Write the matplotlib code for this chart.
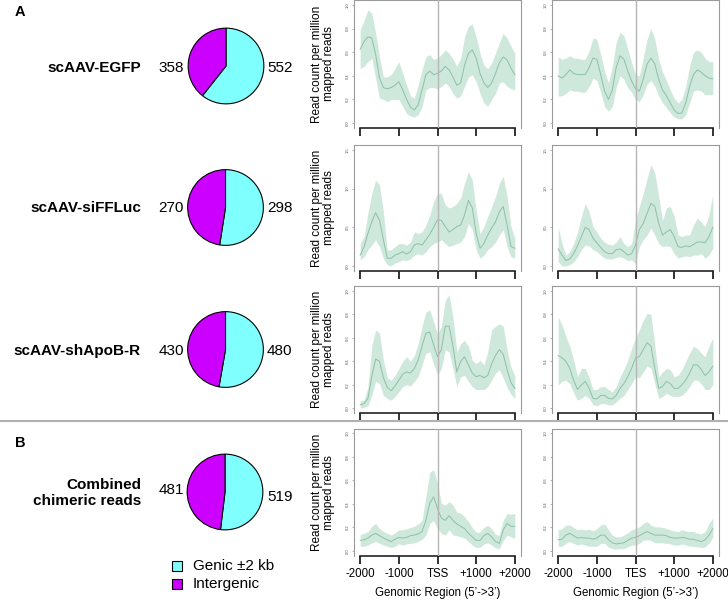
import numpy as np
import matplotlib
matplotlib.use("Agg")
import matplotlib.pyplot as plt
from matplotlib.patches import Rectangle
from matplotlib.lines import Line2D

plt.rcParams['font.family'] = ['Liberation Sans', 'DejaVu Sans']

# ---------------- data ----------------
samples = ["scAAV-EGFP", "scAAV-siFFLuc", "scAAV-shApoB-R", "Combined\nchimeric reads"]
genic_counts = [552, 298, 480, 519]
intergenic_counts = [358, 270, 430, 481]
legend_labels = ["Genic \u00b12 kb", "Intergenic"]

positions = np.arange(-2000, 2001, 100)
xtick_values = [-2000, -1000, 0, 1000, 2000]
tss_ticklabels = ["-2000", "-1000", "TSS", "+1000", "+2000"]
tes_ticklabels = ["-2000", "-1000", "TES", "+1000", "+2000"]

egfp_tss_mean = [0.625,0.69,0.73,0.72,0.58,0.38,0.30,0.29,0.30,0.32,0.35,0.28,0.20,0.135,0.11,0.155,0.28,0.41,0.44,0.41,0.42,0.44,0.48,0.45,0.39,0.32,0.34,0.49,0.59,0.62,0.55,0.42,0.34,0.30,0.34,0.42,0.51,0.56,0.535,0.465,0.41]
egfp_tss_hi = [0.79,0.87,0.96,0.93,0.76,0.56,0.39,0.39,0.41,0.46,0.52,0.42,0.32,0.23,0.21,0.32,0.45,0.56,0.58,0.54,0.55,0.58,0.62,0.59,0.54,0.48,0.55,0.73,0.82,0.84,0.73,0.59,0.49,0.46,0.51,0.59,0.68,0.76,0.72,0.65,0.59]
egfp_tss_lo = [0.46,0.48,0.52,0.55,0.38,0.21,0.20,0.18,0.20,0.20,0.20,0.14,0.08,0.06,0.05,0.07,0.14,0.28,0.30,0.30,0.29,0.31,0.34,0.31,0.25,0.21,0.23,0.31,0.39,0.41,0.35,0.25,0.17,0.14,0.20,0.25,0.34,0.35,0.31,0.29,0.28]

egfp_tes_mean = [0.40,0.38,0.41,0.45,0.42,0.41,0.41,0.41,0.47,0.55,0.54,0.41,0.27,0.20,0.28,0.47,0.57,0.54,0.44,0.355,0.29,0.27,0.37,0.50,0.55,0.50,0.37,0.28,0.23,0.17,0.11,0.08,0.085,0.17,0.31,0.41,0.45,0.43,0.40,0.38,0.375]
egfp_tes_hi = [0.56,0.54,0.55,0.57,0.55,0.55,0.54,0.54,0.61,0.72,0.71,0.58,0.44,0.34,0.48,0.68,0.77,0.74,0.63,0.51,0.41,0.40,0.55,0.71,0.80,0.71,0.54,0.43,0.36,0.28,0.21,0.17,0.20,0.31,0.48,0.60,0.62,0.60,0.55,0.52,0.52]
egfp_tes_lo = [0.23,0.23,0.25,0.28,0.27,0.27,0.26,0.26,0.31,0.38,0.36,0.26,0.14,0.10,0.14,0.30,0.40,0.37,0.30,0.26,0.20,0.18,0.24,0.33,0.36,0.31,0.23,0.17,0.13,0.085,0.05,0.035,0.035,0.07,0.17,0.27,0.28,0.27,0.24,0.24,0.24]

siffluc_tss_mean = [0.14,0.25,0.42,0.57,0.69,0.59,0.34,0.10,0.10,0.14,0.16,0.185,0.155,0.185,0.27,0.29,0.27,0.34,0.41,0.50,0.60,0.59,0.51,0.44,0.47,0.51,0.53,0.66,0.85,0.75,0.42,0.23,0.29,0.40,0.49,0.57,0.70,0.77,0.53,0.25,0.23]
siffluc_tss_hi = [0.29,0.38,0.68,0.94,1.11,1.05,0.70,0.21,0.21,0.25,0.29,0.29,0.27,0.31,0.44,0.42,0.44,0.53,0.66,0.83,0.94,0.94,0.79,0.75,0.77,0.81,0.88,1.07,1.22,1.11,0.72,0.42,0.51,0.64,0.77,0.90,1.07,1.16,0.90,0.51,0.36]
siffluc_tss_lo = [0.08,0.12,0.21,0.27,0.34,0.25,0.10,0.015,0.0,0.04,0.055,0.08,0.07,0.09,0.14,0.16,0.14,0.185,0.25,0.29,0.31,0.34,0.29,0.25,0.27,0.29,0.31,0.38,0.55,0.47,0.21,0.10,0.14,0.21,0.25,0.31,0.40,0.47,0.25,0.12,0.10]

siffluc_tes_mean = [0.22,0.14,0.07,0.09,0.16,0.26,0.38,0.50,0.47,0.36,0.30,0.24,0.185,0.16,0.16,0.21,0.22,0.185,0.14,0.16,0.27,0.47,0.55,0.68,0.81,0.77,0.55,0.40,0.44,0.47,0.38,0.25,0.24,0.26,0.25,0.28,0.31,0.31,0.30,0.38,0.50]
siffluc_tes_hi = [0.50,0.29,0.14,0.185,0.29,0.44,0.64,0.81,0.70,0.51,0.44,0.36,0.31,0.28,0.27,0.31,0.38,0.29,0.25,0.29,0.59,0.77,0.94,1.13,1.31,1.20,0.90,0.59,0.75,0.77,0.64,0.40,0.38,0.40,0.40,0.53,0.62,0.57,0.51,0.66,0.92]
siffluc_tes_lo = [0.055,0.0,0.0,0.015,0.055,0.12,0.21,0.27,0.26,0.21,0.185,0.14,0.10,0.09,0.09,0.11,0.12,0.10,0.07,0.08,0.03,0.25,0.34,0.40,0.49,0.40,0.29,0.25,0.26,0.25,0.16,0.10,0.12,0.13,0.12,0.14,0.14,0.16,0.10,0.14,0.23]

shapob_tss_mean = [0.03,0.04,0.085,0.27,0.42,0.40,0.26,0.18,0.15,0.19,0.24,0.29,0.31,0.30,0.34,0.41,0.53,0.64,0.65,0.54,0.44,0.50,0.70,0.70,0.53,0.31,0.40,0.44,0.37,0.30,0.27,0.28,0.26,0.28,0.38,0.45,0.50,0.46,0.33,0.22,0.17]
shapob_tss_hi = [0.065,0.07,0.18,0.53,0.67,0.64,0.41,0.26,0.24,0.28,0.34,0.40,0.44,0.40,0.45,0.55,0.70,0.82,0.84,0.74,0.63,0.70,0.92,0.97,0.78,0.48,0.55,0.58,0.53,0.41,0.38,0.41,0.37,0.48,0.67,0.70,0.72,0.70,0.50,0.35,0.28]
shapob_tss_lo = [0.0,0.01,0.02,0.11,0.23,0.21,0.11,0.085,0.07,0.10,0.14,0.185,0.20,0.19,0.23,0.27,0.37,0.47,0.48,0.38,0.28,0.34,0.50,0.48,0.34,0.185,0.27,0.28,0.23,0.185,0.16,0.16,0.16,0.185,0.24,0.30,0.33,0.26,0.18,0.12,0.085]

shapob_tes_mean = [0.45,0.43,0.40,0.34,0.24,0.16,0.20,0.23,0.17,0.085,0.08,0.11,0.11,0.085,0.08,0.11,0.17,0.21,0.27,0.34,0.43,0.44,0.50,0.56,0.53,0.34,0.17,0.185,0.23,0.21,0.17,0.17,0.20,0.24,0.30,0.37,0.37,0.33,0.28,0.31,0.36]
shapob_tes_hi = [0.78,0.71,0.61,0.53,0.41,0.27,0.34,0.34,0.26,0.16,0.16,0.185,0.185,0.16,0.14,0.185,0.27,0.33,0.41,0.51,0.60,0.67,0.75,0.81,0.80,0.53,0.27,0.31,0.34,0.33,0.27,0.28,0.33,0.40,0.47,0.53,0.51,0.47,0.44,0.53,0.60]
shapob_tes_lo = [0.20,0.23,0.24,0.21,0.13,0.07,0.085,0.11,0.085,0.03,0.02,0.04,0.04,0.03,0.03,0.055,0.085,0.11,0.16,0.21,0.27,0.26,0.31,0.36,0.34,0.21,0.085,0.10,0.13,0.11,0.10,0.10,0.11,0.14,0.185,0.24,0.24,0.21,0.16,0.16,0.20]

combined_tss_mean = [0.09,0.095,0.11,0.135,0.15,0.13,0.11,0.095,0.08,0.10,0.115,0.11,0.115,0.13,0.135,0.145,0.165,0.26,0.405,0.46,0.36,0.28,0.26,0.30,0.26,0.23,0.21,0.19,0.15,0.12,0.09,0.09,0.13,0.15,0.12,0.08,0.065,0.18,0.235,0.21,0.21]
combined_tss_hi = [0.14,0.15,0.165,0.21,0.235,0.19,0.165,0.15,0.135,0.155,0.18,0.18,0.19,0.20,0.21,0.23,0.26,0.46,0.67,0.69,0.575,0.405,0.39,0.42,0.39,0.33,0.32,0.29,0.25,0.20,0.16,0.16,0.20,0.22,0.19,0.14,0.135,0.26,0.32,0.31,0.32]
combined_tss_lo = [0.04,0.04,0.05,0.07,0.08,0.065,0.05,0.04,0.03,0.04,0.06,0.05,0.06,0.065,0.07,0.08,0.10,0.135,0.235,0.26,0.19,0.15,0.135,0.18,0.135,0.13,0.12,0.11,0.08,0.05,0.03,0.03,0.06,0.07,0.05,0.025,0.02,0.09,0.135,0.12,0.11]

combined_tes_mean = [0.095,0.10,0.135,0.15,0.13,0.11,0.115,0.11,0.11,0.10,0.11,0.135,0.135,0.095,0.07,0.06,0.065,0.07,0.09,0.11,0.115,0.13,0.15,0.165,0.15,0.135,0.135,0.135,0.13,0.115,0.11,0.11,0.115,0.11,0.10,0.10,0.09,0.08,0.095,0.135,0.19]
combined_tes_hi = [0.18,0.19,0.22,0.22,0.20,0.18,0.185,0.18,0.185,0.17,0.19,0.22,0.23,0.18,0.135,0.12,0.12,0.135,0.155,0.18,0.19,0.205,0.235,0.25,0.22,0.205,0.205,0.20,0.19,0.18,0.17,0.165,0.18,0.17,0.165,0.165,0.15,0.145,0.165,0.235,0.28]
combined_tes_lo = [0.04,0.04,0.065,0.08,0.065,0.05,0.06,0.05,0.04,0.04,0.04,0.065,0.065,0.035,0.02,0.015,0.02,0.02,0.035,0.05,0.05,0.065,0.09,0.095,0.09,0.07,0.07,0.07,0.065,0.06,0.05,0.05,0.06,0.05,0.04,0.04,0.035,0.03,0.035,0.065,0.12]

row_ymax = [1.0, 1.5, 1.0, 1.0]
row_yticks = [[0.0, 0.2, 0.4, 0.6, 0.8, 1.0], [0.0, 0.5, 1.0, 1.5],
              [0.0, 0.2, 0.4, 0.6, 0.8, 1.0], [0.0, 0.2, 0.4, 0.6, 0.8, 1.0]]

profiles = [
    [(egfp_tss_mean, egfp_tss_lo, egfp_tss_hi), (egfp_tes_mean, egfp_tes_lo, egfp_tes_hi)],
    [(siffluc_tss_mean, siffluc_tss_lo, siffluc_tss_hi), (siffluc_tes_mean, siffluc_tes_lo, siffluc_tes_hi)],
    [(shapob_tss_mean, shapob_tss_lo, shapob_tss_hi), (shapob_tes_mean, shapob_tes_lo, shapob_tes_hi)],
    [(combined_tss_mean, combined_tss_lo, combined_tss_hi), (combined_tes_mean, combined_tes_lo, combined_tes_hi)],
]

# ---------------- layout ----------------
W, H = 728, 602
fig = plt.figure(figsize=(W / 100, H / 100), dpi=100)

def fx(x):
    return x / W

def fy(y):
    return 1 - y / H

CYAN = "#80FFFF"
MAGENTA = "#CC00FF"
BAND = "#cfe8dc"
LINE = "#8cc0a6"

# pixel geometry of rows: (box top, box bottom)
row_boxes = [(0.3, 127.7), (145.4, 270.6), (286.3, 413.0), (428.6, 555.7)]
col_boxes = [(354, 521), (552, 719)]
pie_centers = [(226, 66), (225.5, 207.5), (225.5, 349.5), (225, 492)]
pie_r = 39
label_y = [68, 208, 351, 493]
left_num_y = [68, 208, 351, 490]
right_num_y = [68, 208, 351, 497]

for r in range(4):
    top, bot = row_boxes[r]
    ymax = row_ymax[r]
    for c in range(2):
        l, rr = col_boxes[c]
        ax = fig.add_axes([fx(l), fy(bot), (rr - l) / W, (bot - top) / H])
        mean, lo, hi = profiles[r][c]
        ax.fill_between(positions, lo, hi, color=BAND, lw=0, zorder=1)
        ax.plot(positions, mean, color=LINE, lw=0.7, zorder=2)
        ax.axvline(0, color="#b5b5b5", lw=1.0, zorder=3)
        ax.set_xlim(-2160, 2160)
        ax.set_ylim(-0.04 * ymax, 1.04 * ymax)
        for s in ["top", "left", "right"]:
            ax.spines[s].set_color("#9a9a9a")
            ax.spines[s].set_linewidth(0.8)
        ax.spines["bottom"].set_bounds(-2000, 2000)
        ax.spines["bottom"].set_color("#222222")
        ax.spines["bottom"].set_linewidth(1.2)
        ax.set_xticks(xtick_values)
        ax.tick_params(axis="x", length=6, width=1.3, color="#222222",
                       direction="out", pad=3)
        if r == 3:
            ax.set_xticklabels(tss_ticklabels if c == 0 else tes_ticklabels,
                               fontsize=8.3)
        else:
            ax.set_xticklabels([])
        ax.set_yticks(row_yticks[r])
        ax.set_yticklabels(["%.1f" % v for v in row_yticks[r]], fontsize=3,
                           rotation=90, va="center", color="#555555")
        ax.tick_params(axis="y", length=1.5, width=0.4, color="#777777", pad=1.5)
    # y label
    fig.text(fx(323), fy((top + bot) / 2), "Read count per million\nmapped reads",
             rotation=90, ha="center", va="center", fontsize=8.5, linespacing=1.1)

    # pie
    cx, cy = pie_centers[r]
    pax = fig.add_axes([fx(cx - pie_r), fy(cy + pie_r), 2 * pie_r / W, 2 * pie_r / H])
    pax.pie([genic_counts[r], intergenic_counts[r]], colors=[CYAN, MAGENTA],
            startangle=90, counterclock=False, radius=1,
            wedgeprops=dict(edgecolor="black", linewidth=0.8))
    pax.set_xlim(-1.03, 1.03)
    pax.set_ylim(-1.03, 1.03)
    pax.set_aspect("equal")
    pax.axis("off")
    fig.text(fx(184), fy(left_num_y[r]), str(intergenic_counts[r]), ha="right",
             va="center", fontsize=11)
    fig.text(fx(267), fy(right_num_y[r]), str(genic_counts[r]), ha="left",
             va="center", fontsize=11)
    fig.text(fx(141), fy(label_y[r]), samples[r], ha="right", va="center",
             fontsize=11, fontweight="bold", linespacing=1.1, multialignment="right")

# x labels for bottom row
for c in range(2):
    l, rr = col_boxes[c]
    fig.text(fx((l + rr) / 2), fy(593), "Genomic Region (5\u2019->3\u2019)",
             ha="center", va="center", fontsize=8.3)

# panel letters
fig.text(fx(15), fy(12), "A", ha="left", va="center", fontsize=10.5, fontweight="bold")
fig.text(fx(15), fy(443), "B", ha="left", va="center", fontsize=10.5, fontweight="bold")

# separator
fig.add_artist(Line2D([0, 1], [fy(421), fy(421)], color="#b0b0b0", lw=1.5,
                      transform=fig.transFigure))

# legend
for i, (lab, col) in enumerate(zip(legend_labels, [CYAN, MAGENTA])):
    ycen = 566 + i * 18
    fig.add_artist(Rectangle((fx(172), fy(ycen + 5)), 10 / W, 10 / H, facecolor=col,
                             edgecolor="black", lw=0.8, transform=fig.transFigure))
    fig.text(fx(193), fy(ycen), lab, ha="left", va="center", fontsize=11)

fig.savefig("out.png", dpi=100)
